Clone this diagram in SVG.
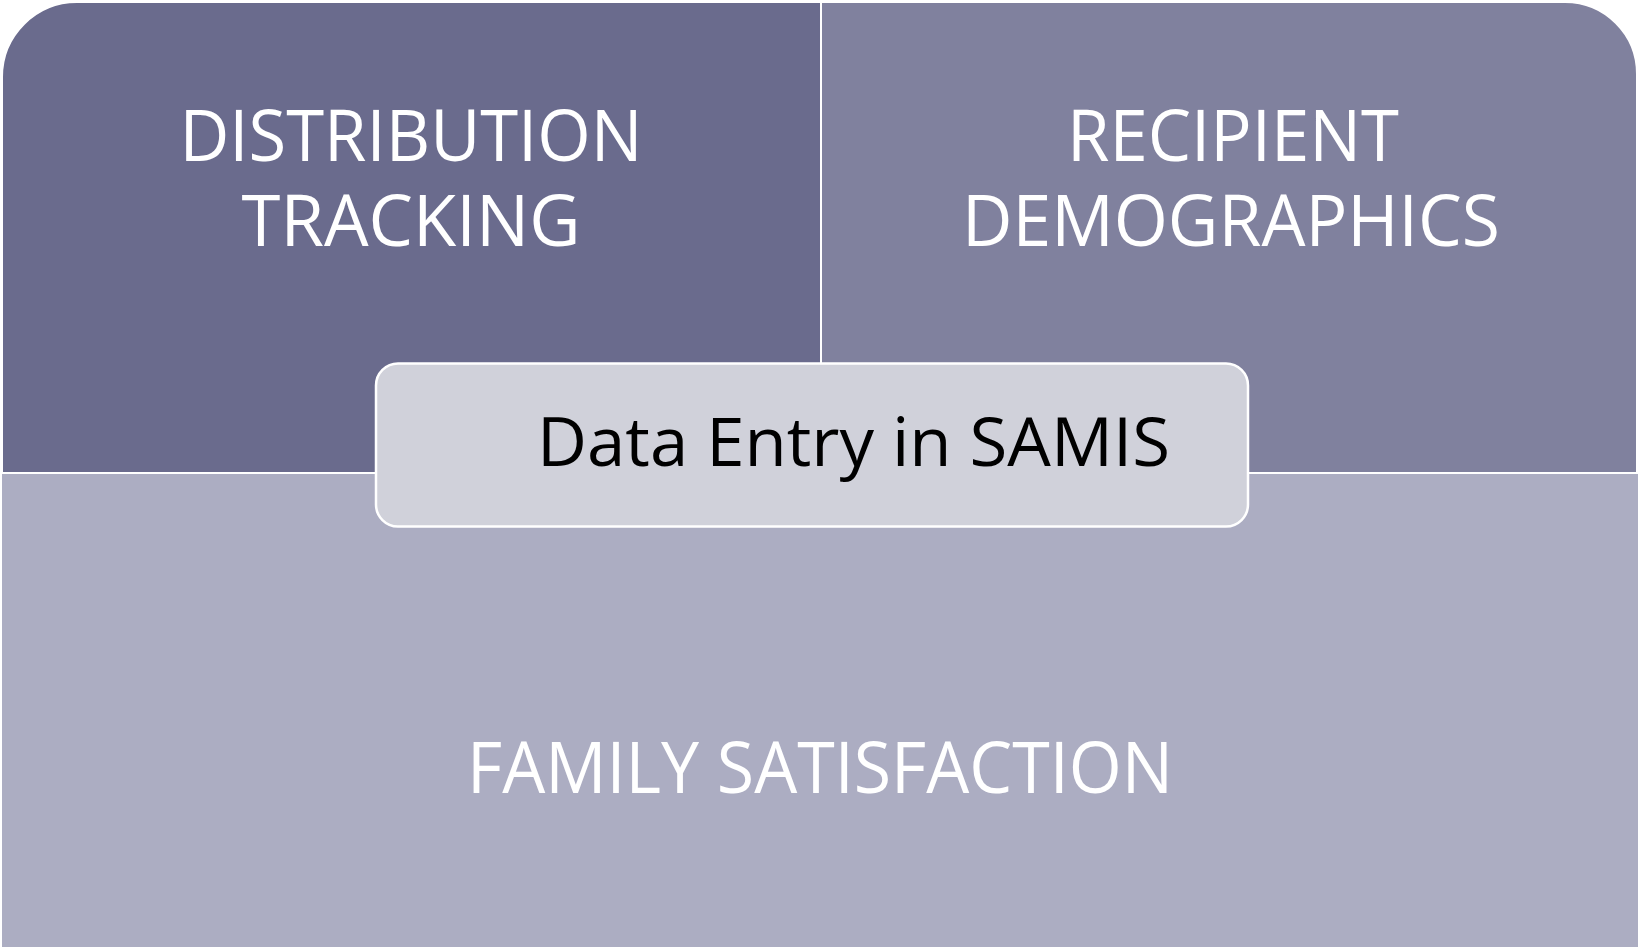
<svg xmlns="http://www.w3.org/2000/svg" width="1638" height="947" viewBox="0 0 1638 947">
  <style>
    .panel { stroke: #FFFFFF; stroke-width: 2; }
    .label { font-family: "Open Sans", "Noto Sans", "Liberation Sans", sans-serif; font-size: 72px; fill: #FFFFFF; }
    .hub { fill: #D0D1DA; stroke: #FFFFFF; stroke-width: 2.5; }
    .hub-label { font-family: "Open Sans", "Noto Sans", "Liberation Sans", sans-serif; font-size: 68px; fill: #000000; }
  </style>
  <rect x="0" y="0" width="1638" height="947" fill="#FFFFFF"/>

  <!-- lower band -->
  <g id="family-satisfaction">
    <rect class="panel" x="1" y="473" width="1638" height="476" fill="#ACADC2"/>
    <text class="label" x="467" y="793" textLength="706" lengthAdjust="spacingAndGlyphs">FAMILY SATISFACTION</text>
  </g>

  <!-- upper left quadrant -->
  <g id="distribution-tracking">
    <path class="panel" d="M2,473 V77 A75,75 0 0 1 77,2 H821 V473 Z" fill="#6A6B8D"/>
    <text class="label" x="179.5" y="161" textLength="463" lengthAdjust="spacingAndGlyphs">DISTRIBUTION</text>
    <text class="label" x="241.5" y="246" textLength="339" lengthAdjust="spacingAndGlyphs">TRACKING</text>
  </g>

  <!-- upper right quadrant -->
  <g id="recipient-demographics">
    <path class="panel" d="M821,2 H1565 A72,72 0 0 1 1637,74 V473 H821 Z" fill="#80819E"/>
    <text class="label" x="1067" y="161" textLength="332" lengthAdjust="spacingAndGlyphs">RECIPIENT</text>
    <text class="label" x="962" y="246" textLength="538" lengthAdjust="spacingAndGlyphs">DEMOGRAPHICS</text>
  </g>

  <!-- central box -->
  <g id="data-entry">
    <rect class="hub" x="376" y="363.5" width="872" height="163" rx="22" ry="22"/>
    <text class="hub-label" x="537" y="466" textLength="633" lengthAdjust="spacingAndGlyphs">Data Entry in SAMIS</text>
  </g>
</svg>
